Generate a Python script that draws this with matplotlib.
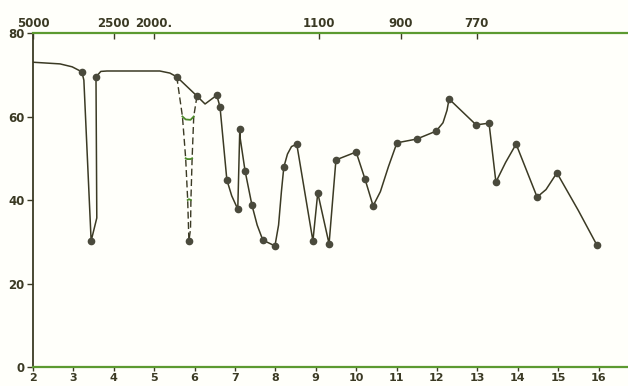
import matplotlib
matplotlib.use("Agg")
import matplotlib.pyplot as plt

# main trace (wavelength in microns, % transmission)
trace_x = [2.0, 2.67, 2.97, 3.21, 3.26, 3.44, 3.58, 3.56, 3.68, 3.83, 4.4, 5.14, 5.39, 5.56,
           6.06, 6.26, 6.55, 6.63, 6.80, 6.92, 7.07, 7.12, 7.13, 7.25, 7.42, 7.55, 7.69, 7.99,
           8.08, 8.15, 8.21, 8.3, 8.4, 8.53, 8.93, 9.05, 9.33, 9.50, 10.0, 10.22, 10.42,
           10.6, 10.8, 11.01, 11.5, 11.98, 12.15, 12.25, 12.30, 12.97, 13.29, 13.46,
           13.7, 13.96, 14.48, 14.7, 14.97, 15.5, 15.96]
trace_y = [73.0, 72.6, 71.9, 70.7, 68.7, 30.2, 35.7, 69.5, 70.8, 70.9, 70.9, 70.9, 70.4, 69.5,
           64.9, 63.0, 65.1, 62.3, 44.8, 41.0, 37.8, 57.0, 54.8, 47.0, 38.8, 34.0, 30.4, 29.0,
           34.0, 42.0, 47.9, 51.0, 52.8, 53.4, 30.2, 41.7, 29.5, 49.6, 51.5, 45.0, 38.6,
           42.0, 48.0, 53.7, 54.6, 56.5, 58.5, 61.5, 64.2, 58.0, 58.4, 44.3,
           49.0, 53.4, 40.7, 42.5, 46.5, 37.5, 29.2]

# plotted points
pts_x = [3.21, 3.44, 3.56, 5.56, 5.86, 6.06, 6.55, 6.63, 6.80, 7.07, 7.12, 7.25, 7.42,
         7.69, 7.99, 8.21, 8.53, 8.93, 9.05, 9.33, 9.50, 10.0, 10.22, 10.42, 11.01,
         11.5, 11.98, 12.30, 12.97, 13.29, 13.46, 13.96, 14.48, 14.97, 15.96]
pts_y = [70.7, 30.2, 69.5, 69.5, 30.2, 64.9, 65.1, 62.3, 44.8, 37.8, 57.0, 47.0, 38.8,
         30.4, 29.0, 47.9, 53.4, 30.2, 41.7, 29.5, 49.6, 51.5, 45.0, 38.6, 53.7,
         54.6, 56.5, 64.2, 58.0, 58.4, 44.3, 53.4, 40.7, 46.5, 29.2]

# dashed band near 6 microns
dash_left_x = [5.56, 5.70, 5.78, 5.83, 5.86]
dash_left_y = [69.5, 60.0, 50.0, 40.0, 30.2]
dash_right_x = [6.06, 5.98, 5.94, 5.91, 5.90, 5.86]
dash_right_y = [64.9, 60.0, 50.0, 40.0, 33.0, 30.2]
level_x = [[5.70, 5.78, 5.90, 5.98], [5.78, 5.82, 5.90, 5.94], [5.83, 5.86, 5.91]]
level_y = [[60.0, 59.3, 59.2, 60.0], [50.0, 49.8, 49.8, 50.0], [40.0, 40.2, 40.0]]

top_wn = [5000, 2500, 2000, 1100, 900, 770]
top_labels = ["5000", "2500", "2000.", "1100", "900", "770"]

ink = "#3b3a24"
bg = "#fffffa"

fig = plt.figure(figsize=(6.28, 3.86), dpi=100, facecolor=bg)
ax = fig.add_axes([0.0525, 0.0492, 0.9475, 0.8653], facecolor=bg)

ax.plot(trace_x, trace_y, color=ink, lw=1.1, zorder=3)
ax.plot(pts_x, pts_y, "o", color="#4a4a3c", ms=4.5, zorder=4)
ax.plot(dash_left_x, dash_left_y, color=ink, lw=1.0, ls=(0, (5, 2.5)))
ax.plot(dash_right_x, dash_right_y, color=ink, lw=1.0, ls=(0, (5, 2.5)))
for lx, ly in zip(level_x, level_y):
    ax.plot(lx, ly, color="#4c8a2a", lw=1.3)

ax.set_xlim(2, 16.73)
ax.set_ylim(0, 80)
ax.set_xticks(range(2, 17))
ax.set_yticks([0, 20, 40, 60, 80])
ax.tick_params(axis="y", colors=ink, length=4, width=1, labelsize=8.5, pad=2)
ax.tick_params(axis="x", colors=ink, length=3, width=1, labelsize=8, pad=1)
for lab in ax.get_xticklabels() + ax.get_yticklabels():
    lab.set_fontweight("bold")

ax.spines["right"].set_visible(False)
ax.spines["left"].set_color(ink)
ax.spines["left"].set_linewidth(1.3)
ax.spines["bottom"].set_color("#5c9a30")
ax.spines["bottom"].set_linewidth(1.6)
ax.spines["top"].set_color("#5c9a30")
ax.spines["top"].set_linewidth(1.6)

top = ax.secondary_xaxis("top")
top.set_xticks([10000 / w for w in top_wn])
top.set_xticklabels(top_labels)
top.tick_params(axis="x", colors=ink, length=4, width=1, labelsize=8.5, pad=2, direction="in")
for lab in top.get_xticklabels():
    lab.set_fontweight("bold")
top.spines["top"].set_visible(False)

fig.savefig("out.png", dpi=100, facecolor=bg)
